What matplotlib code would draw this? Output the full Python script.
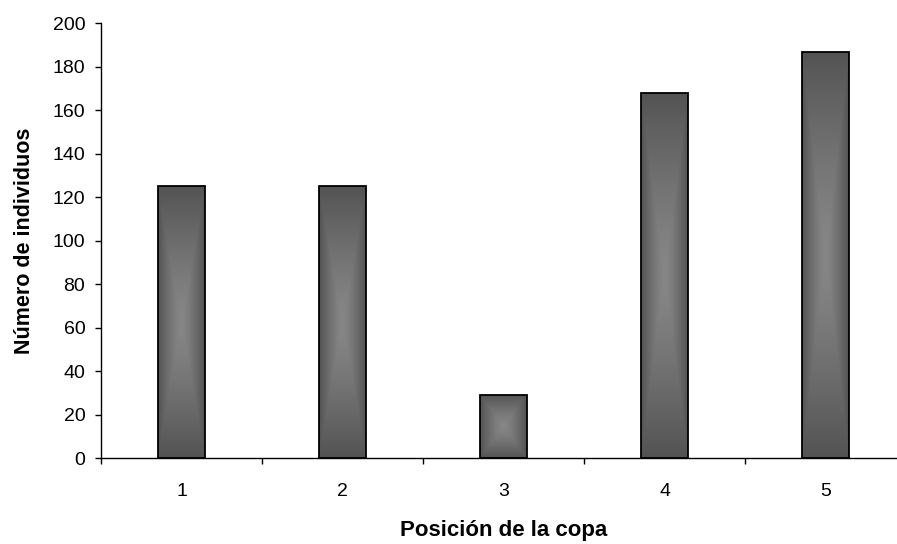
import numpy as np
import matplotlib
matplotlib.use("Agg")
import matplotlib.pyplot as plt
from matplotlib.colors import LinearSegmentedColormap

plt.rcParams['font.family'] = ['Liberation Sans', 'DejaVu Sans']

categories = ["1", "2", "3", "4", "5"]
values = [125, 125, 29, 168, 187]
yticks = [0, 20, 40, 60, 80, 100, 120, 140, 160, 180, 200]
xlabel = "Posición de la copa"
ylabel = "Número de individuos"

fig = plt.figure(figsize=(8.97, 5.44), dpi=100)
ax = fig.add_axes([101.3 / 897, (544 - 458.3) / 544, 805 / 897, 435 / 544])

x = np.arange(len(categories))
bars = ax.bar(x, values, width=0.29, facecolor='none', edgecolor='black',
              linewidth=1.3, zorder=3)

cmap = LinearSegmentedColormap.from_list("g", ["#878787", "#535353"])
n = 200
u = np.linspace(-1, 1, n)
U, V = np.meshgrid(u, u)
T = np.maximum(np.abs(U), np.abs(V))
T = T ** 1.3
for b in bars:
    x0, y0 = b.get_x(), b.get_y()
    w, h = b.get_width(), b.get_height()
    im = ax.imshow(T, cmap=cmap, vmin=0, vmax=1, extent=[x0, x0 + w, y0, y0 + h],
                   aspect='auto', zorder=2, interpolation='bilinear')
    im.set_clip_path(b)

ax.set_xlim(-0.5, len(categories) - 0.5)
ax.set_ylim(0, 200)
ax.set_yticks(yticks)
ax.set_xticks(x)
ax.set_xticklabels(categories)
ax.set_xticks(np.arange(-0.5, len(categories) + 0.5, 1), minor=True)

for s in ['top', 'right']:
    ax.spines[s].set_visible(False)
for s in ['left', 'bottom']:
    ax.spines[s].set_linewidth(1.0)
    ax.spines[s].set_color('black')

ax.tick_params(axis='y', direction='out', length=4.5, width=1.0, pad=7,
               labelsize=14, colors='black')
ax.tick_params(axis='x', which='major', length=0, pad=18, labelsize=14)
ax.tick_params(axis='x', which='minor', direction='out', length=4.5, width=1.0)

ax.set_xlabel(xlabel, fontsize=16, fontweight='bold', labelpad=14)
ax.set_ylabel(ylabel, fontsize=15.5, fontweight='bold', labelpad=13)

fig.savefig("out.png", dpi=100)
